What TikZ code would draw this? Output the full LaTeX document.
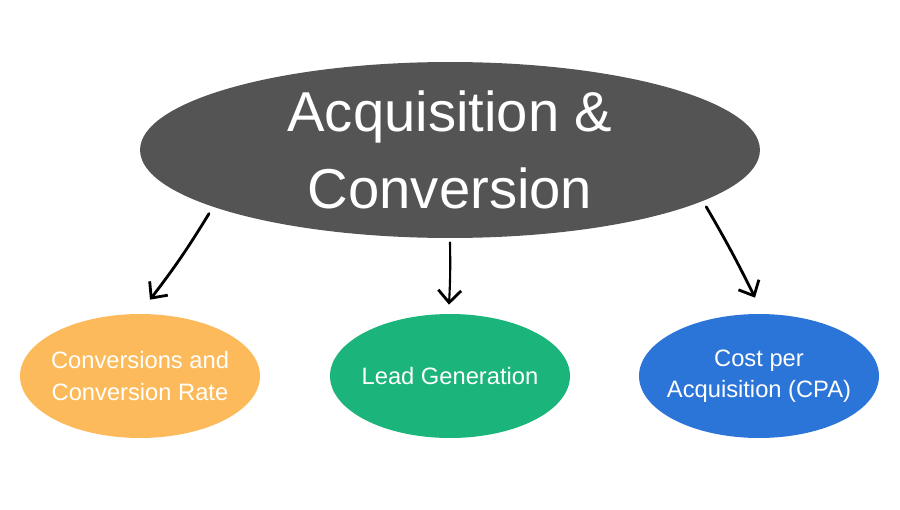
\documentclass[tikz,border=0pt]{standalone}
\usepackage{fontspec}
\setmainfont{Liberation Sans}
\usetikzlibrary{shapes.geometric,arrows.meta}
\begin{document}
\begin{tikzpicture}[x=0.02cm, y=-0.02cm]
    \definecolor{my-gray}{HTML}{545454}
    \definecolor{my-orange}{HTML}{FDBA5A}
    \definecolor{my-green}{HTML}{1BB47A}
    \definecolor{my-blue}{HTML}{2B74D8}
    \tikzset{
      blob/.style={ellipse, inner xsep=-6pt, inner ysep=0pt, text=white, align=center,
        minimum width=4.8cm, minimum height=2.48cm,
        font=\fontsize{13.5}{18}\selectfont},
      hand/.style={line width=1.6pt, line cap=round,
        -{Straight Barb[length=7pt,width=13pt,line width=1.6pt]}}
    }
    \useasboundingbox (0,0) rectangle (900,510);
    \node[ellipse, fill=my-gray, inner sep=0pt, text=white, align=center,
      minimum width=12.4cm, minimum height=3.52cm,
      font=\fontsize{32}{44}\selectfont] (acq) at (450,150) {Acquisition \&\\Conversion};
    \node[blob, fill=my-orange] (rate) at (140,376) {Conversions and\\Conversion Rate};
    \node[blob, fill=my-green]  (lead) at (450,376) {Lead Generation};
    \node[blob, fill=my-blue]   (cpa)  at (759,376) {Cost per\\Acquisition (CPA)};
    \draw[hand] ([shift={(0,8)}]acq.193) to[bend left=3] ([shift={(10,-14)}]rate.north);
    \draw[hand, line width=1.2pt] ([shift={(0,4)}]acq.south) to[bend left=2] ([shift={(-1,-9)}]lead.north);
    \draw[hand] ([shift={(0,7)}]acq.-11) to[bend left=2] ([shift={(-4,-16)}]cpa.north);
\end{tikzpicture}
\end{document}
